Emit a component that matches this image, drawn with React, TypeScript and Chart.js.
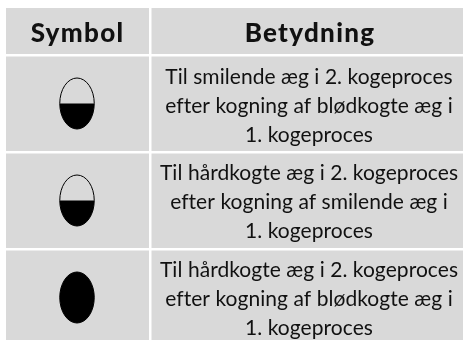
import React, { useEffect, useRef } from "react";
import { Chart, registerables } from "chart.js";

Chart.register(...registerables);

const columnHeaders = ["Symbol", "Betydning"];
const eggFill = [0.5, 0.5, 1];
const eggColumn = [77, 77, 77];
const eggRow = [103.5, 200.5, 297.5];
const columnDivider = [149.8];
const rowDividers = [55.5, 152.3, 249.3];
const headerCenters = [77.5, 310];
const headerBaseline = 42;
const rowLines = [
  ["Til smilende æg i 2. kogeproces", "efter kogning af blødkogte æg i", "1. kogeproces"],
  ["Til hårdkogte æg i 2. kogeproces", "efter kogning af smilende æg i", "1. kogeproces"],
  ["Til hårdkogte æg i 2. kogeproces", "efter kogning af blødkogte æg i", "1. kogeproces"],
];
const rowBaselines = [
  [84, 113, 142],
  [180, 209, 238],
  [277, 306, 335],
];
const textCenter = 309;

function eggImage(fill: number) {
  const w = 36;
  const h = 53;
  const c = document.createElement("canvas");
  c.width = w;
  c.height = h;
  const g = c.getContext("2d")!;
  const path = () => {
    g.beginPath();
    g.ellipse(w / 2, h / 2, 17.25, 25.5, 0, 0, Math.PI * 2);
  };
  g.save();
  path();
  g.clip();
  g.fillStyle = "#000";
  g.fillRect(0, h / 2 + 25.5 - 51 * fill, w, 51 * fill);
  g.restore();
  path();
  g.strokeStyle = "#000";
  g.lineWidth = 1;
  g.stroke();
  return c;
}

const tablePlugin = {
  id: "tablePlugin",
  beforeDraw(chart: any) {
    const { ctx, chartArea: a } = chart;
    ctx.save();
    ctx.fillStyle = "#d9d9d9";
    ctx.fillRect(a.left, a.top, a.right - a.left, a.bottom - a.top);
    ctx.restore();
  },
  afterDraw(chart: any) {
    const { ctx, scales } = chart;
    const { x, y } = scales;
    ctx.save();
    ctx.fillStyle = "#111";
    ctx.textAlign = "center";
    ctx.textBaseline = "alphabetic";
    ctx.font = "900 26px Lato";
    (ctx as any).letterSpacing = "1.3px";
    columnHeaders.forEach((t, i) => {
      ctx.fillText(t, x.getPixelForValue(headerCenters[i]), y.getPixelForValue(headerBaseline));
    });
    ctx.font = "400 21px Lato";
    (ctx as any).letterSpacing = "0.05px";
    rowLines.forEach((lines, r) => {
      lines.forEach((t, l) => {
        ctx.fillText(t, x.getPixelForValue(textCenter), y.getPixelForValue(rowBaselines[r][l]));
      });
    });
    ctx.restore();
  },
};

export default function App() {
  const ref = useRef<HTMLCanvasElement>(null);
  useEffect(() => {
    const chart = new Chart(ref.current!, {
      type: "scatter",
      data: {
        datasets: [
          {
            label: "Symbol",
            data: eggFill.map((_, i) => ({ x: eggColumn[i], y: eggRow[i] })),
            pointStyle: eggFill.map(eggImage) as any,
            pointRadius: 25,
            clip: false,
          } as any,
        ],
      },
      options: {
        animation: false,
        responsive: false,
        layout: { autoPadding: false, padding: { left: 6, top: 8, right: 0, bottom: 0 } },
        plugins: { legend: { display: false }, tooltip: { enabled: false } },
        scales: {
          x: {
            type: "linear",
            min: 6,
            max: 463,
            border: { display: false },
            ticks: { display: false },
            afterBuildTicks: (s: any) => {
              s.ticks = columnDivider.map((value) => ({ value }));
            },
            grid: { color: "#ffffff", lineWidth: 2.5, drawTicks: false },
          },
          y: {
            type: "linear",
            reverse: true,
            min: 8,
            max: 340,
            border: { display: false },
            ticks: { display: false },
            afterBuildTicks: (s: any) => {
              s.ticks = rowDividers.map((value) => ({ value }));
            },
            grid: { color: "#ffffff", lineWidth: 2.5, drawTicks: false },
          },
        },
      } as any,
      plugins: [tablePlugin],
    });
    return () => chart.destroy();
  }, []);
  return (
    <div style={{ position: "fixed", left: 0, top: 0, width: 463, height: 340, background: "#fff" }}>
      <canvas ref={ref} width={463} height={340} style={{ display: "block" }} />
    </div>
  );
}
